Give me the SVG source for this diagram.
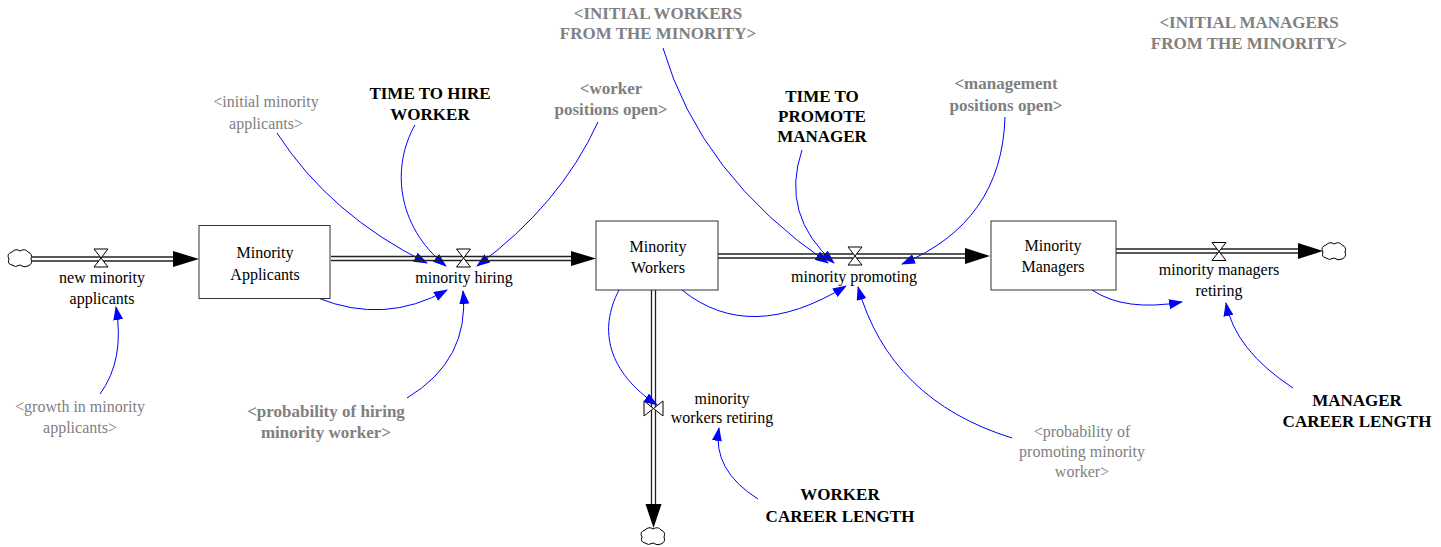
<svg xmlns="http://www.w3.org/2000/svg" width="1441" height="547" viewBox="0 0 1441 547">
<style>
text{font-family:"Liberation Serif",Tinos,"DejaVu Serif",serif;font-size:16px;fill:#000;text-anchor:middle}
.b{font-weight:bold;font-size:17px}
.g{fill:#808080}
.stock{fill:#fff;stroke:#333;stroke-width:1}
.pipe{stroke:#222;stroke-width:1.3;fill:none}
.valve{fill:#fff;stroke:#000;stroke-width:1}
.cloud{fill:#fff;stroke:#000;stroke-width:1}
.head{fill:#000}
.link{fill:none;stroke:#0000ff;stroke-width:1;marker-end:url(#ah)}
</style>
<defs>
<marker id="ah" viewBox="0 0 14 10" refX="13" refY="5" markerWidth="14" markerHeight="10" markerUnits="userSpaceOnUse" orient="auto">
<path d="M0,0 L14,5 L0,10 z" fill="#0000ff"/>
</marker>
</defs>
<rect width="1441" height="547" fill="#fff"/>

<g id="connectors">
<path class="link" d="M277,133 Q330,215 427,263"/>
<path class="link" d="M415,125 C392,165 395,225 446,266"/>
<path class="link" d="M598,122 Q560,205 477,266"/>
<path class="link" d="M318,298 Q385,325 447,290"/>
<path class="link" d="M407,398 Q470,360 463,291"/>
<path class="link" d="M100,394 Q125,360 116,307"/>
<path class="link" d="M663,48 Q700,175 828,263"/>
<path class="link" d="M802,150 Q780,215 834,263"/>
<path class="link" d="M1005,117 Q1002,222 902,264"/>
<path class="link" d="M682,290 Q750,345 846,286"/>
<path class="link" d="M1012,438 Q890,400 858,287"/>
<path class="link" d="M619,290 C598,330 608,372 657,405"/>
<path class="link" d="M758,499 Q712,470 719,428"/>
<path class="link" d="M1092,290 Q1125,312 1182,302"/>
<path class="link" d="M1293,388 Q1235,350 1226,303"/>
</g>

<g id="pipes">
<path class="pipe" d="M32,257 H176 M32,261 H176"/>
<path class="head" d="M199,259 L173,251 L173,267 z"/>
<path class="pipe" d="M331,256.5 H573 M331,260.5 H573"/>
<path class="head" d="M596,258.5 L571,251 L571,266 z"/>
<path class="pipe" d="M718,254 H967 M718,258 H967"/>
<path class="head" d="M990,256 L965,248 L965,264 z"/>
<path class="pipe" d="M1116,249 H1300 M1116,253 H1300"/>
<path class="head" d="M1323,251 L1298,243 L1298,259 z"/>
<path class="pipe" d="M651.5,290 V506 M655.5,290 V506"/>
<path class="head" d="M653.5,528 L645.5,504 L661.5,504 z"/>
</g>

<g id="cloud-source-applicants">
<path class="cloud" d="M12,252 Q16,248 20,251 Q25,248 28,252 Q33,254 31,259 Q33,264 28,266 Q24,268 20,265 Q15,268 12,265 Q7,264 9,259 Q6,254 12,252 z"/>
</g>
<g id="cloud-sink-managers">
<path class="cloud" d="M1326,245 Q1330,241 1334,244 Q1339,241 1342,245 Q1347,247 1345,252 Q1347,257 1342,259 Q1338,261 1334,258 Q1329,261 1326,258 Q1321,257 1323,252 Q1320,247 1326,245 z"/>
</g>
<g id="cloud-sink-workers">
<path class="cloud" d="M645,530 Q649,526 653,529 Q658,526 661,530 Q666,532 664,537 Q666,542 661,544 Q657,546 653,543 Q648,546 645,543 Q640,542 642,537 Q639,532 645,530 z"/>
</g>

<g id="minority-applicants">
<rect class="stock" x="199" y="225.5" width="131" height="73"/>
<text x="265" y="258">Minority</text>
<text x="265" y="280">Applicants</text>
</g>
<g id="minority-workers">
<rect class="stock" x="596" y="221" width="122" height="69"/>
<text x="658" y="252">Minority</text>
<text x="658" y="273">Workers</text>
</g>
<g id="minority-managers">
<rect class="stock" x="991" y="221" width="125" height="69"/>
<text x="1053" y="251">Minority</text>
<text x="1053" y="272">Managers</text>
</g>

<g id="new-minority-applicants">
<path class="valve" d="M94,249 L108,249 L94,267 L108,267 z"/>
<text x="102" y="283">new minority</text>
<text x="102" y="304">applicants</text>
</g>
<g id="minority-hiring">
<path class="valve" d="M456.5,249 L470.5,249 L456.5,267 L470.5,267 z"/>
<text x="464" y="283">minority hiring</text>
</g>
<g id="minority-promoting">
<path class="valve" d="M848,247 L862,247 L848,265 L862,265 z"/>
<text x="854" y="282">minority promoting</text>
</g>
<g id="minority-managers-retiring">
<path class="valve" d="M1212,242.5 L1226,242.5 L1212,260.5 L1226,260.5 z"/>
<text x="1219" y="275">minority managers</text>
<text x="1219" y="296">retiring</text>
</g>
<g id="minority-workers-retiring">
<path class="valve" d="M644,401 L644,416 L663,401 L663,416 z"/>
<text x="722" y="404">minority</text>
<text x="722" y="423">workers retiring</text>
</g>

<g id="initial-minority-applicants">
<text class="g" x="266" y="107">&lt;initial minority</text>
<text class="g" x="266" y="129">applicants&gt;</text>
</g>
<g id="time-to-hire-worker">
<text class="b" x="430" y="99">TIME TO HIRE</text>
<text class="b" x="430" y="120">WORKER</text>
</g>
<g id="worker-positions-open">
<text class="b g" x="611" y="94">&lt;worker</text>
<text class="b g" x="611" y="115">positions open&gt;</text>
</g>
<g id="initial-workers-from-minority">
<text class="b g" x="658" y="19">&lt;INITIAL WORKERS</text>
<text class="b g" x="658" y="39">FROM THE MINORITY&gt;</text>
</g>
<g id="time-to-promote-manager">
<text class="b" x="822" y="102">TIME TO</text>
<text class="b" x="822" y="122">PROMOTE</text>
<text class="b" x="822" y="142">MANAGER</text>
</g>
<g id="management-positions-open">
<text class="b g" x="1006" y="89">&lt;management</text>
<text class="b g" x="1006" y="111">positions open&gt;</text>
</g>
<g id="initial-managers-from-minority">
<text class="b g" x="1249" y="28">&lt;INITIAL MANAGERS</text>
<text class="b g" x="1249" y="49">FROM THE MINORITY&gt;</text>
</g>
<g id="growth-in-minority-applicants">
<text class="g" x="80" y="412">&lt;growth in minority</text>
<text class="g" x="80" y="433">applicants&gt;</text>
</g>
<g id="probability-of-hiring-minority-worker">
<text class="b g" x="326" y="417">&lt;probability of hiring</text>
<text class="b g" x="326" y="438">minority worker&gt;</text>
</g>
<g id="probability-of-promoting-minority-worker">
<text class="g" x="1082" y="437">&lt;probability of</text>
<text class="g" x="1082" y="457">promoting minority</text>
<text class="g" x="1082" y="477">worker&gt;</text>
</g>
<g id="worker-career-length">
<text class="b" x="840" y="500">WORKER</text>
<text class="b" x="840" y="522">CAREER LENGTH</text>
</g>
<g id="manager-career-length">
<text class="b" x="1357" y="406">MANAGER</text>
<text class="b" x="1357" y="427">CAREER LENGTH</text>
</g>
</svg>
